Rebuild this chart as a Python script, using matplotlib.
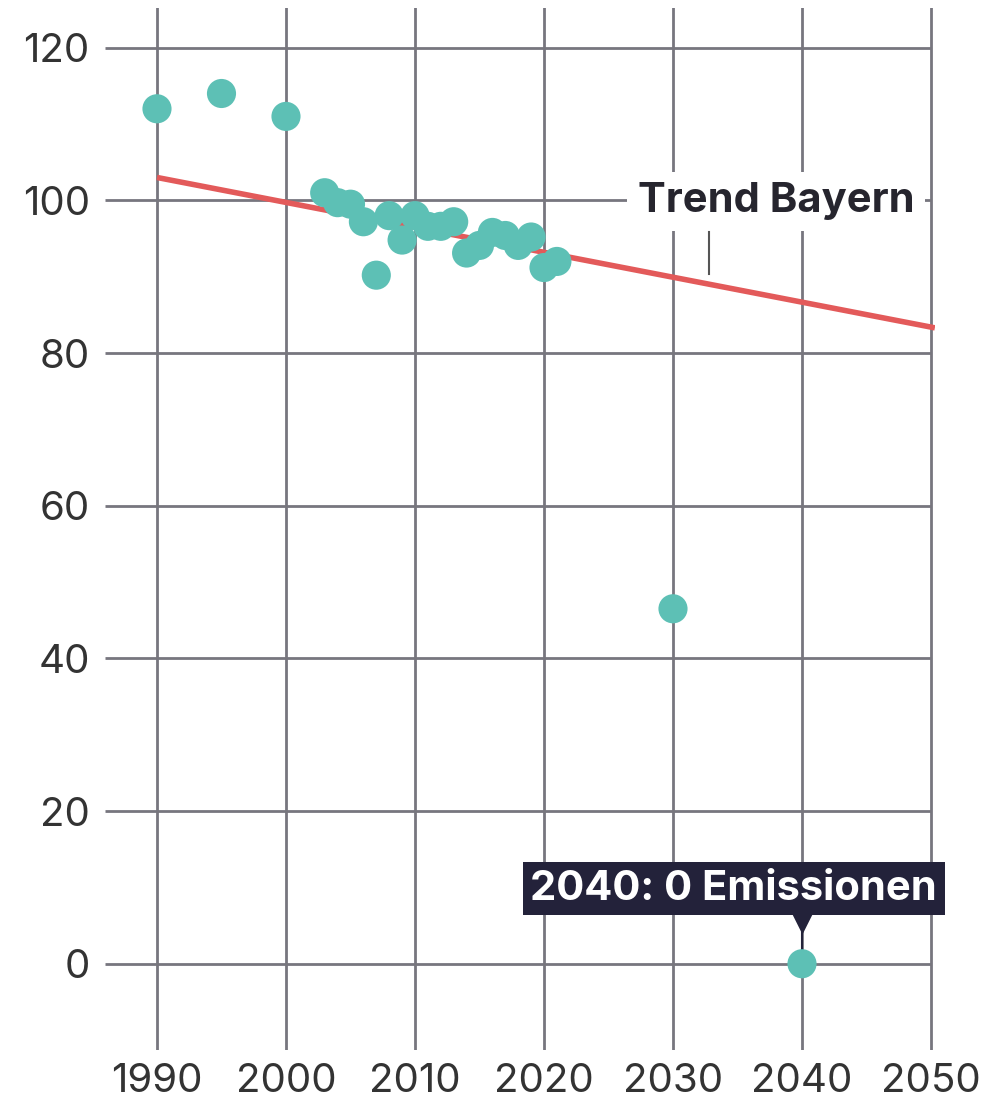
import numpy as np
import matplotlib.pyplot as plt

# Emissionen Bayern (Index, 1990 ~ Basis)
years = [1990, 1995, 2000, 2003, 2004, 2005, 2006, 2007, 2008, 2009, 2010,
         2011, 2012, 2013, 2014, 2015, 2016, 2017, 2018, 2019, 2020, 2021,
         2030, 2040]
values = [112.0, 114.0, 111.0, 101.0, 99.7, 99.5, 97.2, 90.2, 98.0, 94.8, 98.0,
          96.6, 96.6, 97.2, 93.1, 94.1, 95.8, 95.4, 94.1, 95.2, 91.2, 92.0,
          46.5, 0.0]
trend_years = [1990, 2050.3]
trend_values = [103.0, 83.3]

x_ticks = [1990, 2000, 2010, 2020, 2030, 2040, 2050]
y_ticks = [0, 20, 40, 60, 80, 100, 120]

TEAL = "#5dc0b5"
RED = "#e35a5a"
GRID = "#77767e"
NAVY = "#23223a"
TXT = "#333333"

plt.rcParams["font.family"] = ["Inter", "DejaVu Sans"]

fig = plt.figure(figsize=(9.99, 11.01), dpi=100)
ax = fig.add_axes([105 / 999, 51 / 1101, 830 / 999, 1042 / 1101])
ax.set_xlim(1985.97, 2050.31)
ax.set_ylim(-11.3, 125.2)

# grid drawn by hand: horizontals stop at 2050
for v in y_ticks:
    ax.plot([1985.97, 2050], [v, v], color=GRID, lw=2, zorder=1, solid_capstyle="butt")
for yr in x_ticks:
    ax.axvline(yr, color=GRID, lw=2, zorder=1)

ax.plot(trend_years, trend_values, color=RED, lw=4, zorder=2, solid_capstyle="butt")
ax.scatter(years, values, s=440, color=TEAL, edgecolors="none", zorder=3)

# Trend label with white box + leader
ax.text(2038.0, 99.9, "Trend Bayern", ha="center", va="center", fontsize=30,
        fontweight="bold", color="#26252e", zorder=5,
        bbox=dict(boxstyle="square,pad=0.25", fc="white", ec="none"))
ax.plot([2032.8, 2032.8], [95.8, 90.3], color="#555", lw=1.5, zorder=5)

# 2040 annotation
ax.text(2034.7, 9.8, "2040: 0 Emissionen", ha="center", va="center", fontsize=30,
        fontweight="bold", color="white", zorder=6,
        bbox=dict(boxstyle="square,pad=0.18", fc=NAVY, ec="none"))
ax.plot([2040], [5.2], marker="v", ms=14, color=NAVY, mec="none", zorder=6)
ax.plot([2040, 2040], [4.5, 0.5], color=NAVY, lw=1.5, zorder=2)

ax.set_xticks(x_ticks)
ax.set_yticks(y_ticks)
ax.tick_params(length=0, labelsize=29, labelcolor=TXT)
ax.tick_params(axis="y", pad=11)
ax.tick_params(axis="x", pad=9)
for s in ax.spines.values():
    s.set_visible(False)

fig.savefig("out.png", dpi=100, facecolor="white")
